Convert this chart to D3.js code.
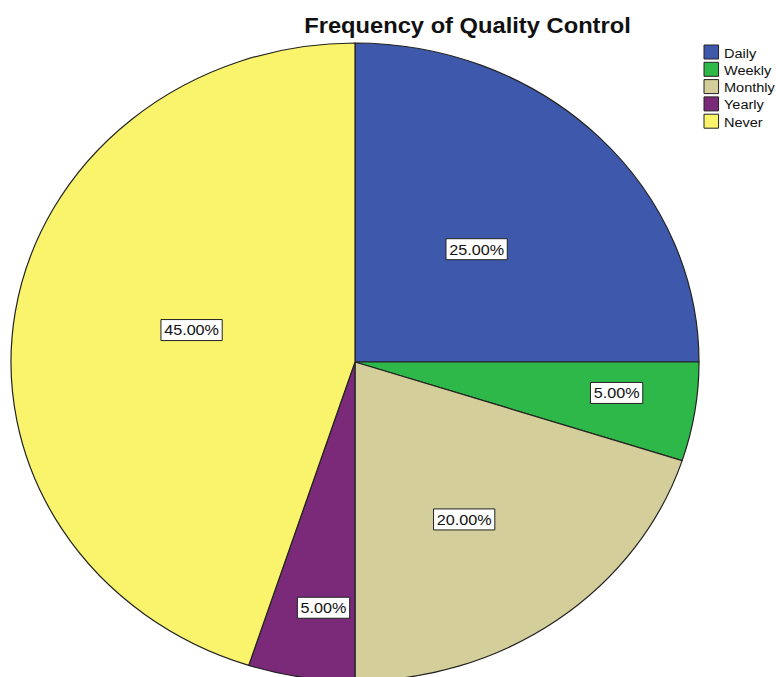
<!DOCTYPE html>
<html>
<head>
<meta charset="utf-8">
<script src="https://cdn.jsdelivr.net/npm/d3@7"></script>
<style>
  html, body { margin: 0; padding: 0; background: #fff; }
  svg { display: block; font-family: Arial, "Liberation Sans", sans-serif; }
</style>
</head>
<body>
<div id="pie-chart"></div>
<script>
const categories = ["Daily", "Weekly", "Monthly", "Yearly", "Never"];
const percents = [25, 5, 20, 5, 45];
const colors = ["#3e58ab", "#2eb84a", "#d4ce9a", "#7b2a79", "#f9f46b"];

// label distance along each slice's middle, as a share of the radius (x, y)
const labelPos = [[0.5, 0.5], [0.77, 0.62], [0.54, 0.61], [0.585, 0.78], [0.481, 0.64]];

const width = 776, height = 677;
const cx = 355, cy = 362, rx = 344, ry = 319;
// the exported SPSS picture is stretched sideways: everything gets this x scale
const sx = rx / ry;

const svg = d3.select("#pie-chart").append("svg")
  .attr("width", width)
  .attr("height", height);

const root = svg.append("g")
  .attr("transform", `scale(${sx},1)`);

const data = categories.map((c, i) => ({ name: c, value: percents[i], color: colors[i] }));

const pie = d3.pie().sort(null).value(d => d.value);
const arcs = pie(data);

const arc = d3.arc().innerRadius(0).outerRadius(ry);

root.append("g")
  .attr("transform", `translate(${cx / sx},${cy})`)
  .selectAll("path")
  .data(arcs)
  .enter()
  .append("path")
  .attr("d", arc)
  .attr("fill", d => d.data.color)
  .attr("stroke", "#222")
  .attr("stroke-width", 1.2)
  .attr("vector-effect", "non-scaling-stroke");

const fmt = d3.format(".2f");

const labels = root.append("g").selectAll("g")
  .data(arcs)
  .enter()
  .append("g")
  .attr("transform", (d, i) => {
    const a = (d.startAngle + d.endAngle) / 2;
    const x = ry * Math.sin(a) * labelPos[i][0];
    const y = cy - ry * Math.cos(a) * labelPos[i][1];
    return `translate(${cx / sx + x},${y})`;
  });

const boxes = labels.append("rect")
  .attr("fill", "#fff")
  .attr("stroke", "#222")
  .attr("stroke-width", 1)
  .attr("vector-effect", "non-scaling-stroke");

labels.append("text")
  .attr("text-anchor", "middle")
  .attr("dy", "0.36em")
  .attr("font-size", 15)
  .attr("fill", "#111")
  .text(d => fmt(d.data.value) + "%")
  .each(function () {
    const w = this.getComputedTextLength() + 6;
    d3.select(this.parentNode).select("rect")
      .attr("x", -w / 2)
      .attr("y", -10.5)
      .attr("width", w)
      .attr("height", 21);
  });

root.append("text")
  .attr("x", 467.5 / sx)
  .attr("y", 33)
  .attr("text-anchor", "middle")
  .attr("font-size", 22)
  .attr("font-weight", "bold")
  .attr("fill", "#111")
  .text("Frequency of Quality Control");

const legend = root.append("g")
  .attr("transform", `translate(${704 / sx},45)`);

const row = legend.selectAll("g")
  .data(data)
  .enter()
  .append("g")
  .attr("transform", (d, i) => `translate(0,${i * 17.3})`);

row.append("rect")
  .attr("width", 13.5)
  .attr("height", 14)
  .attr("fill", d => d.color)
  .attr("stroke", "#222")
  .attr("stroke-width", 1)
  .attr("vector-effect", "non-scaling-stroke");

row.append("text")
  .attr("x", 18.5)
  .attr("y", 12.5)
  .attr("font-size", 13.5)
  .attr("fill", "#111")
  .text(d => d.name);
</script>
</body>
</html>
